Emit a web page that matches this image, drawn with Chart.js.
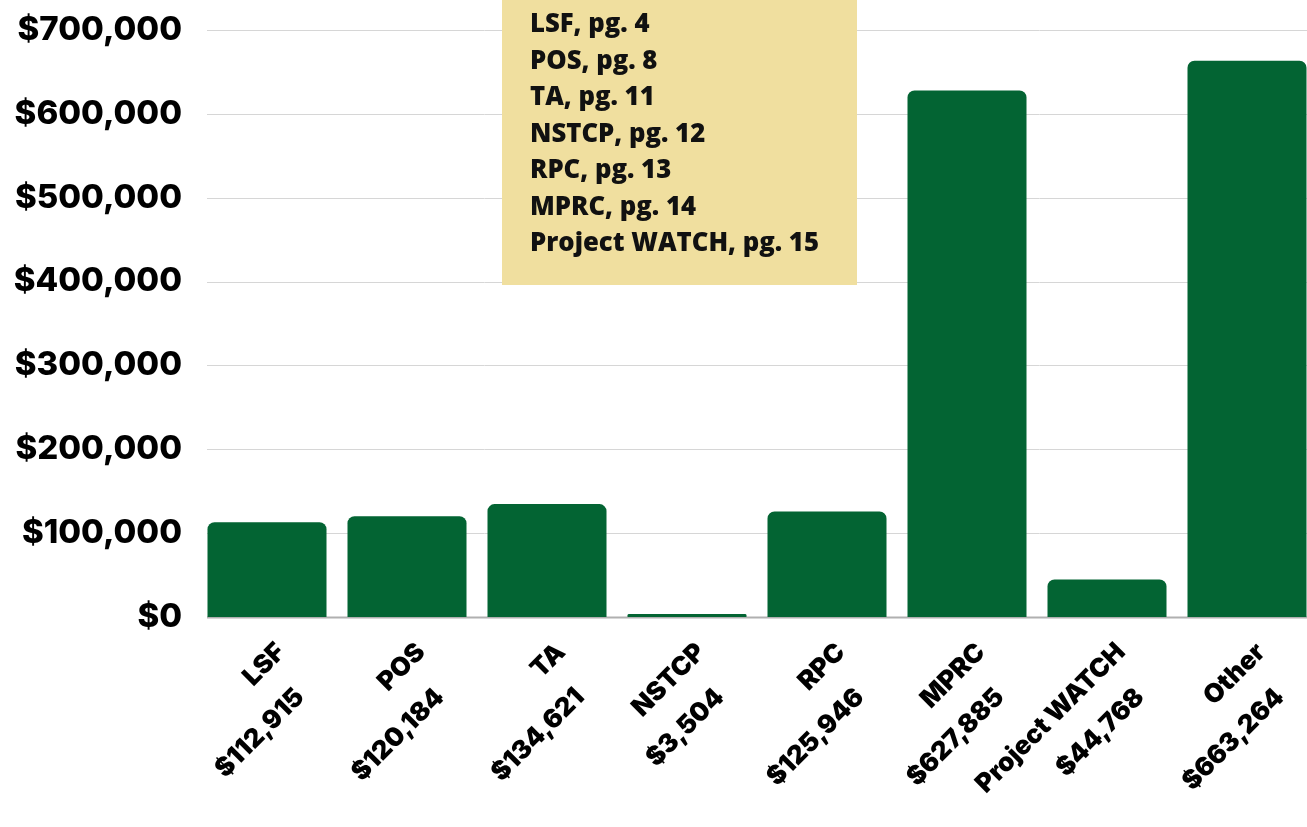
<!DOCTYPE html>
<html>
<head>
<meta charset="utf-8">
<script src="https://cdn.jsdelivr.net/npm/chart.js@4.4.1/dist/chart.umd.min.js"></script>
<style>
  html, body { margin: 0; padding: 0; overflow: hidden; background: #fff; }
  #wrap { width: 1317px; height: 827px; }
</style>
</head>
<body>
<div id="wrap"><canvas id="grafico" width="1317" height="827"></canvas></div>
<script>
// datos del grafico
const categorias = ['LSF', 'POS', 'TA', 'NSTCP', 'RPC', 'MPRC', 'Project WATCH', 'Other'];
const montos = [112915, 120184, 134621, 3504, 125946, 627885, 44768, 663264];
const ticksY = [0, 100000, 200000, 300000, 400000, 500000, 600000, 700000];
const notas = ['LSF, pg. 4', 'POS, pg. 8', 'TA, pg. 11', 'NSTCP, pg. 12', 'RPC, pg. 13', 'MPRC, pg. 14', 'Project WATCH, pg. 15'];

const verde = '#036433';
const fuenteTit = 'Inter';

function dinero(v) {
  return '$' + v.toLocaleString('en-US');
}

// lineas de la reticula, empiezan un poco dentro del area
const reticula = {
  id: 'reticula',
  beforeDatasetsDraw(chart) {
    const ctx = chart.ctx;
    const ys = chart.scales.y;
    const { left, right } = chart.chartArea;
    ctx.save();
    ticksY.forEach(v => {
      const y = Math.round(ys.getPixelForValue(v)) + 0.5;
      ctx.strokeStyle = v === 0 ? '#b0b0b0' : '#d6d6d6';
      ctx.lineWidth = v === 0 ? 2 : 1;
      ctx.beginPath();
      ctx.moveTo(left + 10, y);
      ctx.lineTo(right, y);
      ctx.stroke();
    });
    ctx.restore();
  }
};

// etiquetas del eje x, giradas y en dos lineas
const etiquetasX = {
  id: 'etiquetasX',
  afterDraw(chart) {
    const ctx = chart.ctx;
    const xs = chart.scales.x;
    const base = chart.chartArea.bottom;
    ctx.save();
    ctx.fillStyle = '#000';
    ctx.font = `900 26px ${fuenteTit}`;
    ctx.textAlign = 'right';
    ctx.textBaseline = 'middle';
    categorias.forEach((cat, i) => {
      const x = xs.getPixelForValue(i);
      const lineas = [cat, dinero(montos[i])];
      lineas.forEach((txt, j) => {
        ctx.save();
        ctx.translate(x + 14 + j * 19, base + 31 + j * 45);
        ctx.rotate(-Math.PI / 4);
        ctx.fillText(txt, 0, 0);
        ctx.restore();
      });
    });
    ctx.restore();
  }
};

// recuadro amarillo con las paginas
const recuadro = {
  id: 'recuadro',
  beforeDatasetsDraw(chart) {
    const ctx = chart.ctx;
    ctx.save();
    ctx.fillStyle = '#F0DF9F';
    ctx.fillRect(502, 0, 355, 285);
    ctx.fillStyle = '#111';
    ctx.font = '800 25.7px "Open Sans"';
    ctx.textAlign = 'left';
    ctx.textBaseline = 'alphabetic';
    notas.forEach((t, i) => {
      ctx.fillText(t, 530, 32 + i * 36.5);
    });
    ctx.restore();
  }
};

const ctx = document.getElementById('grafico').getContext('2d');
const chart = new Chart(ctx, {
  type: 'bar',
  data: {
    labels: categorias,
    datasets: [{
      data: montos,
      backgroundColor: verde,
      borderRadius: 7,
      barPercentage: 0.85,
      categoryPercentage: 1.0
    }]
  },
  options: {
    responsive: false,
    animation: false,
    layout: { padding: { top: 30, bottom: 202, left: 0, right: 0 } },
    plugins: {
      legend: { display: false },
      tooltip: { enabled: false }
    },
    scales: {
      x: {
        grid: { display: false },
        border: { display: false },
        ticks: { display: false }
      },
      y: {
        min: 0,
        max: 700000,
        afterBuildTicks(scale) {
          scale.ticks = ticksY.map(v => ({ value: v }));
        },
        afterFit(scale) {
          scale.width = 197;
          scale.paddingTop = 0;
          scale.paddingBottom = 0;
        },
        grid: { display: false },
        border: { display: false },
        ticks: {
          padding: 7,
          color: '#000',
          font: { family: fuenteTit, weight: '800', size: 33 },
          callback: v => dinero(v)
        }
      }
    }
  },
  plugins: [reticula, recuadro, etiquetasX]
});
</script>
</body>
</html>
